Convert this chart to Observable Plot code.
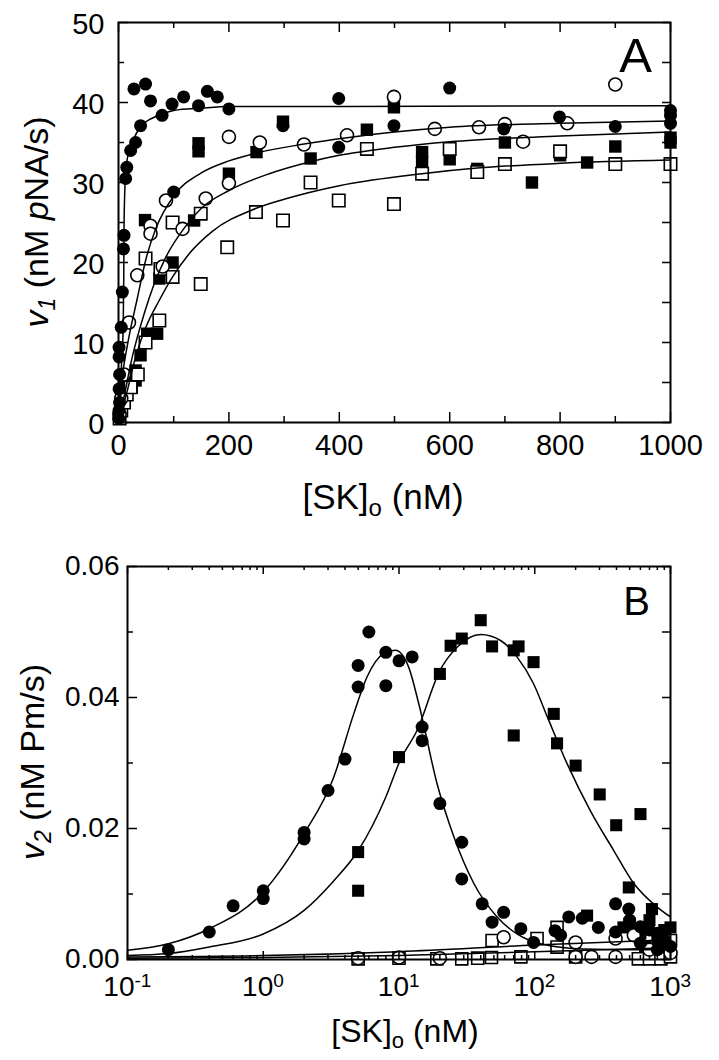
<!DOCTYPE html>
<html><head><meta charset="utf-8">
<script src="https://cdn.jsdelivr.net/npm/d3@7"></script>
<script src="https://cdn.jsdelivr.net/npm/@observablehq/plot@0.6"></script>
<style>body{margin:0;background:#fff}#chart svg{display:block}</style>
</head><body><div id="chart"></div>
<script>
// ---------- Panel A data: [SK]o (nM), v1 (nM pNA/s) ----------
const aFilledCircles = [[0.5,0.5],[1,1.5],[2,2.5],[1,4.2],[2,6],[1,8.2],[1,9.4],[5,11.9],[7,16.3],[9,21.7],[10,23.4],[13,30.5],[15,31.9],[22,34],[31,35],[40,37.1],[28,41.7],[49,42.3],[58,40.2],[79,38.4],[97,39.8],[100,28.8],[118,40.7],[145,39.6],[161,41.4],[179,40.7],[200,39.2],[298,37.1],[399,40.5],[399,34.4],[499,37.1],[600,41.8],[698,36.7],[799,38.2],[900,37],[1000,39.0],[1000,38.4],[1000,37.4]];
const aOpenCircles = [[2,1],[5,3],[10,6],[19,12.5],[34,18.4],[58,24.6],[58,23.6],[80,19.5],[86,27.75],[116,24.2],[158,28],[200,29.9],[200,35.7],[256,35.0],[336,34.75],[414,35.9],[499,40.7],[573,36.7],[653,36.9],[700,37.3],[733,35.1],[813,37.4],[900,42.25]];
const aFilledSquares = [[1,1],[3,2],[5,3.5],[10,4.5],[24,4.4],[31,5.25],[31,6.5],[40,8.4],[52,11.1],[70,11.1],[48,25.3],[74,18],[98,20],[137,25.25],[145,34.9],[145,33.9],[200,31.1],[250,33.8],[298,37.6],[348,33],[450,36.6],[499,39.4],[550,33.8],[550,32.6],[600,32.9],[650,31.7],[700,35],[749,30],[800,33.4],[849,32.5],[900,34.5],[1000,35.6],[1000,35.0]];
const aOpenSquares = [[2,0.5],[5,1.5],[10,2.5],[15,3.5],[22,4.4],[35,6],[49,10.0],[74,12.75],[49,20.5],[76,19.2],[98,18.2],[98,25.0],[149,17.3],[149,26.1],[197,21.9],[249,26.3],[298,25.25],[348,30],[399,27.75],[450,34.2],[499,27.3],[550,31.1],[600,34.2],[650,31.3],[700,32.3],[800,33.9],[900,32.3],[1000,32.3]];
const aFitFilledCircles = [[0,0],[3,4],[6,8],[8.5,12],[9.5,18],[10,24],[11,28],[13,31],[16,33],[25,35],[40,37],[60,38],[80,38.6],[100,39],[150,39.3],[200,39.5],[400,39.5],[1000,39.6]];
const aFitOpenCircles = [[0,0],[7,5.7],[16,9.6],[34,15.5],[50,20.5],[68,24.3],[101,28.4],[150,31.2],[200,32.7],[251,33.7],[336,34.8],[414,35.6],[500,36.3],[600,36.9],[800,37.4],[1000,37.7]];
const aFitFilledSquares = [[0,0],[10,3.2],[25,8.2],[46.5,13.6],[64.6,17.3],[86,20.7],[119,24.3],[152,26.9],[200,29.0],[273,31.1],[348,32.6],[400,33.4],[500,34.4],[600,35.1],[800,35.8],[1000,36.3]];
const aFitOpenSquares = [[0,0],[16,4],[31,8.2],[49.5,11.9],[73.7,15.25],[98,18.2],[128,21.1],[170,23.9],[243,26.6],[300,27.9],[400,29.6],[550,31.1],[650,31.8],[800,32.4],[1000,32.8]];
const aXMajor = [0,200,400,600,800,1000];
const aXMinor = [100,300,500,700,900];
const aYMajor = [0,10,20,30,40,50];
const aYMinor = [5,15,25,35,45];

// ---------- Panel B data: [SK]o (nM), v2 (nM Pm/s) ----------
const bFilledCircles = [[0.2,0.0015],[0.4,0.0042],[0.6,0.0082],[1,0.0105],[1,0.0093],[2,0.0194],[2,0.0184],[3,0.0258],[4,0.0306],[5,0.0449],[5,0.0416],[6,0.05],[8,0.0469],[8,0.0418],[10,0.0456],[12.5,0.0462],[14.8,0.0355],[14.8,0.0334],[20,0.0238],[29,0.0179],[29,0.0123],[41,0.0085],[48.5,0.0057],[59,0.0072],[79,0.0047],[98,0.0026],[141,0.0044],[155,0.0037],[178,0.0065],[224,0.0063],[294,0.0049],[394,0.0085],[493,0.0077],[394,0.0042],[500,0.006],[600,0.005],[700,0.0045],[800,0.004],[900,0.003],[1000,0.002],[600,0.0025],[800,0.0015]];
const bFilledSquares = [[5,0.0164],[5,0.0105],[10,0.0309],[20,0.0436],[24,0.0479],[29,0.049],[40,0.0518],[48.5,0.0478],[70,0.0472],[76,0.0478],[98,0.0454],[70,0.0342],[138,0.0375],[146,0.033],[200,0.0296],[301,0.0252],[398,0.0205],[601,0.0222],[493,0.011],[730,0.0077],[243,0.0067],[450,0.0049],[1000,0.0049],[500,0.0055],[600,0.004],[700,0.006],[800,0.003],[900,0.0045],[1000,0.0025],[650,0.002],[900,0.0015]];
const bOpenSquares = [[5,0.0001],[10,0.0002],[19,0.0001],[29,0.0001],[38,0.0002],[48,0.0003],[48.5,0.0029],[79,0.0004],[104,0.0032],[146,0.0049],[146,0.0019],[200,0.0004],[580,0.0001],[700,0.0001],[850,0.0001],[1000,0.0004],[1000,0.0029]];
const bOpenCircles = [[5,0.0002],[10,0.0003],[20,0.0002],[59,0.0034],[200,0.0026],[200,0.0004],[262,0.0004],[394,0.0032],[394,0.0004],[537,0.0037],[700,0.0015],[1000,0.001]];
const bFitFilledCircles = [[0.1,0.0014],[0.2,0.0024],[0.4,0.0047],[1,0.0103],[2,0.0192],[3.3,0.0278],[4.64,0.0375],[5.8,0.0431],[7.7,0.0467],[9.4,0.0472],[11.8,0.0446],[14,0.039],[19.1,0.0268],[25.4,0.0187],[35.6,0.0116],[52.8,0.0065],[74,0.0039],[110,0.0024],[230,0.0016],[500,0.0015],[1000,0.0015]];
const bFitFilledSquares = [[0.1,0.0006],[0.2,0.0009],[0.4,0.0019],[1,0.0039],[2,0.0075],[3.3,0.012],[5,0.0166],[8,0.0248],[10.2,0.0304],[13.6,0.035],[20,0.0441],[26.9,0.0477],[40,0.0496],[56,0.0487],[74,0.0462],[98,0.0421],[124,0.037],[173,0.0299],[257,0.0227],[383,0.0166],[537,0.0116],[798,0.008],[1000,0.0065]];
const bFitOpenSquares = [[0.1,0.0004],[1,0.0006],[10,0.0012],[100,0.0022],[1000,0.0030]];
const bFitOpenCircles = [[0.1,0.0002],[1,0.0003],[10,0.0006],[100,0.0012],[1000,0.0018]];
const bXDecadesNeg = [0.1];
const bXDecadesPos = [1,10,100,1000];
const bExponent = {0.1:"-1",1:"0",10:"1",100:"2",1000:"3"};
const bXMinor = [0.2,0.3,0.4,0.5,0.6,0.7,0.8,0.9,2,3,4,5,6,7,8,9,20,30,40,50,60,70,80,90,200,300,400,500,600,700,800,900];
const bYMajor = [0,0.02,0.04,0.06];
const bYMinor = [0.01,0.03,0.05];

const FONT = "'Liberation Sans', Arial, Helvetica, sans-serif";
const X = d => d[0], Y = d => d[1];

function ticks(fw, fh, xMaj, xMin, yMaj, yMin, xMajLen, xMinLen, yMajLen, yMinLen, yRightMaj) {
  const sw = 1.5;
  return [
    Plot.tickX(xMaj, {x: d => d, insetTop: fh - xMajLen, strokeWidth: sw}),
    Plot.tickX(xMin, {x: d => d, insetTop: fh - xMinLen, strokeWidth: sw}),
    Plot.tickX(xMaj, {x: d => d, insetBottom: fh - xMajLen, strokeWidth: sw}),
    Plot.tickX(xMin, {x: d => d, insetBottom: fh - xMinLen, strokeWidth: sw}),
    Plot.tickY(yMaj, {y: d => d, insetRight: fw - yMajLen, strokeWidth: sw}),
    Plot.tickY(yMin, {y: d => d, insetRight: fw - yMinLen, strokeWidth: sw}),
    Plot.tickY(yMaj, {y: d => d, insetLeft: fw - yRightMaj, strokeWidth: sw}),
    Plot.tickY(yMin, {y: d => d, insetLeft: fw - yRightMaj, strokeWidth: sw})
  ];
}

function markers(fc, oc, fs, os, rc, rs) {
  return [
    Plot.dot(fs, {x: X, y: Y, symbol: "square", r: rs, fill: "black"}),
    Plot.dot(os, {x: X, y: Y, symbol: "square", r: rs, fill: "white", stroke: "black", strokeWidth: 1.6}),
    Plot.dot(oc, {x: X, y: Y, symbol: "circle", r: rc, fill: "white", stroke: "black", strokeWidth: 1.6}),
    Plot.dot(fc, {x: X, y: Y, symbol: "circle", r: rc, fill: "black"})
  ];
}

function fits(list) {
  return list.map(d => Plot.line(d, {x: X, y: Y, curve: "monotone-x", stroke: "black", strokeWidth: 1.5}));
}

function axisTitle(s, x, y, rotate, size, parts) {
  const t = s.append("text")
    .attr("transform", `translate(${x},${y})${rotate ? " rotate(-90)" : ""}`)
    .attr("text-anchor", "middle").attr("font-size", size).attr("font-family", FONT);
  if (rotate) t.attr("dy", "0.35em");
  for (const [txt, italic, sub] of parts) {
    const ts = t.append("tspan").text(txt);
    if (italic) ts.attr("font-style", "italic");
    if (sub === 1) ts.attr("font-size", Math.round(size * 0.68)).attr("dy", Math.round(size * 0.2));
    if (sub === -1) ts.attr("dy", -Math.round(size * 0.2));
  }
}

// ---------- Panel A ----------
const A = {w: 719, h: 540, mt: 22, mb: 118, ml: 118, mr: 49};
const aFW = A.w - A.ml - A.mr, aFH = A.h - A.mt - A.mb;
const svgA = Plot.plot({
  width: A.w, height: A.h, marginTop: A.mt, marginBottom: A.mb, marginLeft: A.ml, marginRight: A.mr,
  style: {fontFamily: FONT, background: "white", color: "black"},
  x: {domain: [0, 1000], axis: null},
  y: {domain: [0, 50], axis: null},
  marks: [
    ...markers(aFilledCircles, aOpenCircles, aFilledSquares, aOpenSquares, 6.5, 7),
    ...fits([aFitFilledCircles, aFitOpenCircles, aFitFilledSquares, aFitOpenSquares]),
    ...ticks(aFW, aFH, aXMajor, aXMinor, aYMajor, aYMinor, 10, 6, 10, 6, 8),
    Plot.frame({strokeWidth: 2}),
    Plot.text(aXMajor, {x: d => d, frameAnchor: "bottom", dy: 32, text: d => String(d), fontSize: 29}),
    Plot.text(aYMajor, {y: d => d, frameAnchor: "left", dx: -14, dy: 2, textAnchor: "end", text: d => String(d), fontSize: 29})
  ]
});
{
  const s = d3.select(svgA);
  axisTitle(s, 36, 222, true, 34, [["v", true, 0], ["1", true, 1], [" (nM ", false, -1], ["p", true, 0], ["NA/s)", false, 0]]);
  axisTitle(s, 383, 509, false, 35, [["[SK]", false, 0], ["o", false, 1], [" (nM)", false, -1]]);
  s.append("text").attr("x", 652).attr("y", 72).attr("text-anchor", "end")
    .attr("font-size", 49).attr("font-family", FONT).text("A");
}

// ---------- Panel B ----------
const B = {w: 719, h: 520, mt: 26, mb: 101, ml: 127, mr: 49};
const bFW = B.w - B.ml - B.mr, bFH = B.h - B.mt - B.mb;
const svgB = Plot.plot({
  width: B.w, height: B.h, marginTop: B.mt, marginBottom: B.mb, marginLeft: B.ml, marginRight: B.mr,
  style: {fontFamily: FONT, background: "white", color: "black"},
  x: {type: "log", domain: [0.1, 1000], axis: null},
  y: {domain: [0, 0.06], axis: null},
  marks: [
    ...markers(bFilledCircles, bOpenCircles, bFilledSquares, bOpenSquares, 6.5, 6.8),
    ...fits([bFitFilledCircles, bFitFilledSquares, bFitOpenSquares, bFitOpenCircles]),
    ...ticks(bFW, bFH, bXDecadesNeg.concat(bXDecadesPos), bXMinor, bYMajor, bYMinor, 8, 4, 10, 6, 8),
    Plot.frame({strokeWidth: 2}),
    Plot.text(bXDecadesNeg, {x: d => d, frameAnchor: "bottom", dy: 36, dx: 7, textAnchor: "end", text: () => "10", fontSize: 28}),
    Plot.text(bXDecadesNeg, {x: d => d, frameAnchor: "bottom", dy: 27, dx: 7, textAnchor: "start", text: d => bExponent[d], fontSize: 19}),
    Plot.text(bXDecadesPos, {x: d => d, frameAnchor: "bottom", dy: 36, dx: 10, textAnchor: "end", text: () => "10", fontSize: 28}),
    Plot.text(bXDecadesPos, {x: d => d, frameAnchor: "bottom", dy: 27, dx: 10, textAnchor: "start", text: d => bExponent[d], fontSize: 19}),
    Plot.text(bYMajor, {y: d => d, frameAnchor: "left", dx: -8, dy: 0, textAnchor: "end", text: d => d.toFixed(2), fontSize: 28})
  ]
});
{
  const s = d3.select(svgB);
  axisTitle(s, 32, 222, true, 34, [["v", true, 0], ["2", true, 1], [" (nM Pm/s)", false, -1]]);
  axisTitle(s, 405, 502, false, 32, [["[SK]", false, 0], ["o", false, 1], [" (nM)", false, -1]]);
  s.append("text").attr("x", 650).attr("y", 75).attr("text-anchor", "end")
    .attr("font-size", 40).attr("font-family", FONT).text("B");
}

document.getElementById("chart").append(svgA, svgB);
</script>
</body></html>
